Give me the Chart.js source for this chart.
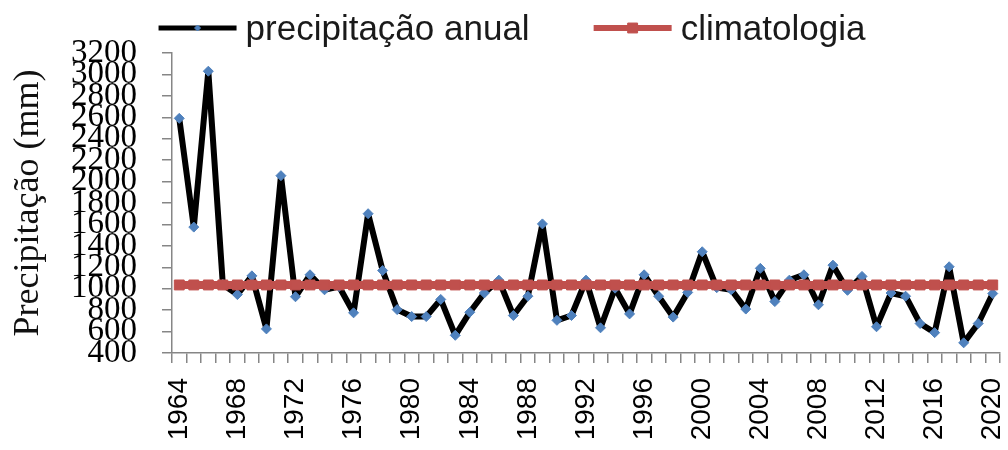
<!DOCTYPE html>
<html lang="pt">
<head>
<meta charset="utf-8">
<title>Precipitação anual</title>
<script src="https://cdn.jsdelivr.net/npm/chart.js@4.4.1/dist/chart.umd.min.js"></script>
<style>
  html, body { margin: 0; padding: 0; background: #fff; }
  #wrap { width: 1008px; height: 450px; position: relative; }
</style>
</head>
<body>
<div id="wrap"><canvas id="chart"></canvas></div>
<script>
'use strict';

const YEARS = [
  '1964','1965','1966','1967','1968','1969','1970','1971','1972','1973',
  '1974','1975','1976','1977','1978','1979','1980','1981','1982','1983',
  '1984','1985','1986','1987','1988','1989','1990','1991','1992','1993',
  '1994','1995','1996','1997','1998','1999','2000','2001','2002','2003',
  '2004','2005','2006','2007','2008','2009','2010','2011','2012','2013',
  '2014','2015','2016','2017','2018','2019','2020'
];

const PRECIP = [
  2590, 1575, 3030, 1040, 945, 1120, 625, 2055, 925, 1130,
  990, 1020, 775, 1700, 1170, 805, 740, 740, 900, 565,
  780, 960, 1080, 750, 930, 1605, 705, 750, 1080, 635,
  1005, 765, 1130, 930, 735, 965, 1345, 1010, 990, 810,
  1190, 880, 1080, 1130, 850, 1220, 985, 1115, 645, 960,
  930, 675, 590, 1205, 495, 675, 955
];

const CLIMATOLOGIA = [
  1035, 1035, 1035, 1035, 1035, 1035, 1035, 1035, 1035, 1035,
  1035, 1035, 1035, 1035, 1035, 1035, 1035, 1035, 1035, 1035,
  1035, 1035, 1035, 1035, 1035, 1035, 1035, 1035, 1035, 1035,
  1035, 1035, 1035, 1035, 1035, 1035, 1035, 1035, 1035, 1035,
  1035, 1035, 1035, 1035, 1035, 1035, 1035, 1035, 1035, 1035,
  1035, 1035, 1035, 1035, 1035, 1035, 1035
];

const Y_MIN = 400;
const Y_MAX = 3200;
const Y_STEP = 200;
const Y_TITLE = 'Precipitação (mm)';
const LABEL_PRECIP = 'precipitação anual';
const LABEL_CLIM = 'climatologia';

const BLUE = '#4F81BD';
const RED = '#C0504D';
const AXIS = '#868686';

// legend drawn by hand so the line samples and spacing look like the Excel one
const topLegend = {
  id: 'topLegend',
  afterDraw(chart) {
    const ctx = chart.ctx;
    const sample = 78, gapText = 9, gapItem = 64, midY = 28, baseY = 40;
    ctx.save();
    ctx.font = '35px "Liberation Sans", Arial, sans-serif';
    const items = [chart.data.datasets[0], chart.data.datasets[1]];
    const widths = items.map(d => ctx.measureText(d.label).width);
    const total = 2 * (sample + gapText) + widths[0] + widths[1] + gapItem;
    let x = 512 - total / 2;
    items.forEach((d, i) => {
      ctx.beginPath();
      ctx.lineWidth = d.legendLine;
      ctx.strokeStyle = d.borderColor;
      ctx.moveTo(x, midY);
      ctx.lineTo(x + sample, midY);
      ctx.stroke();
      ctx.fillStyle = d.pointBackgroundColor;
      ctx.strokeStyle = d.pointBorderColor;
      ctx.lineWidth = 1;
      Chart.helpers.drawPoint(ctx, {
        pointStyle: d.pointStyle, radius: d.legendRadius, rotation: 0, borderWidth: 1
      }, x + sample / 2, midY);
      ctx.fillStyle = '#1a1a1a';
      ctx.textBaseline = 'alphabetic';
      ctx.textAlign = 'left';
      ctx.fillText(d.label, x + sample + gapText, baseY);
      x += sample + gapText + widths[i] + gapItem;
    });
    ctx.restore();
  }
};

new Chart(document.getElementById('chart'), {
  type: 'line',
  data: {
    labels: YEARS,
    datasets: [
      {
        label: LABEL_PRECIP,
        data: PRECIP,
        borderColor: '#000',
        borderWidth: 6,
        borderJoinStyle: 'round',
        borderCapStyle: 'round',
        tension: 0,
        pointStyle: 'rectRot',
        pointRadius: 5,
        pointBackgroundColor: BLUE,
        pointBorderColor: BLUE,
        pointBorderWidth: 1,
        legendLine: 5,
        legendRadius: 3,
        order: 1,
      },
      {
        label: LABEL_CLIM,
        data: CLIMATOLOGIA,
        borderColor: RED,
        borderWidth: 8,
        tension: 0,
        pointStyle: 'rect',
        pointRadius: 7,
        pointBackgroundColor: RED,
        pointBorderColor: RED,
        pointBorderWidth: 1,
        legendLine: 6,
        legendRadius: 7,
        order: 0,
      },
    ],
  },
  options: {
    responsive: true,
    maintainAspectRatio: false,
    animation: false,
    layout: { padding: { top: 53, right: 8, left: 0, bottom: 0 } },
    plugins: {
      legend: { display: false },
      tooltip: { enabled: false },
    },
    scales: {
      x: {
        type: 'category',
        offset: true,
        afterFit: s => { s.height = 97; s.paddingRight = 0; s.paddingLeft = 0; },
        border: { display: true, color: AXIS, width: 1.5 },
        grid: { display: true, offset: true, drawOnChartArea: false, drawTicks: true, tickLength: 10, color: AXIS, lineWidth: 1.5 },
        ticks: {
          autoSkip: false,
          maxRotation: 90,
          minRotation: 90,
          padding: 15,
          color: '#000',
          font: { family: '"Liberation Sans", Arial, sans-serif', size: 28 },
          callback: function (val, idx) { return idx % 4 === 0 ? this.getLabelForValue(val) : ''; },
        },
      },
      y: {
        min: Y_MIN,
        max: Y_MAX,
        afterFit: s => { s.width = 172; },
        border: { display: true, color: AXIS, width: 1.5 },
        grid: { display: true, drawOnChartArea: false, drawTicks: true, tickLength: 10, color: AXIS, lineWidth: 1.5 },
        ticks: {
          stepSize: Y_STEP,
          autoSkip: false,
          padding: 25,
          color: '#000',
          font: { family: '"Liberation Serif", "Times New Roman", serif', size: 33 },
          callback: v => String(v),
        },
        title: {
          display: true,
          text: Y_TITLE,
          color: '#111',
          padding: { top: 7, bottom: 0 },
          font: { family: '"Liberation Serif", "Times New Roman", serif', size: 36 },
        },
      },
    },
  },
  plugins: [topLegend],
});
</script>
</body>
</html>
